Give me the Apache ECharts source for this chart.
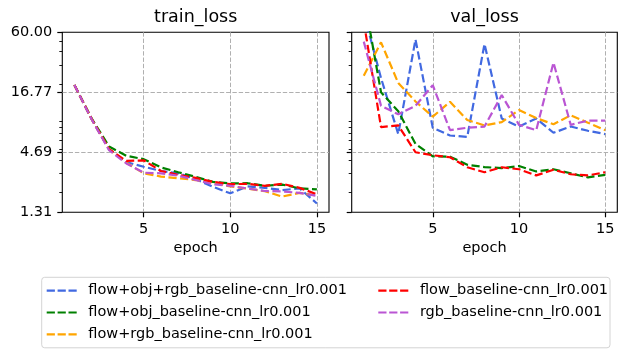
<!DOCTYPE html>
<html>
<head>
<meta charset="utf-8">
<script src="https://cdn.jsdelivr.net/npm/echarts@6/dist/echarts.min.js"></script>
<style>
html,body{margin:0;padding:0;background:#fff;}
#chart{width:619px;height:349px;}
</style>
</head>
<body>
<div id="chart"></div>
<script>
const epochs = [1,2,3,4,5,6,7,8,9,10,11,12,13,14,15];
const seriesNames = [
  'flow+obj+rgb_baseline-cnn_lr0.001',
  'flow+obj_baseline-cnn_lr0.001',
  'flow+rgb_baseline-cnn_lr0.001',
  'flow_baseline-cnn_lr0.001',
  'rgb_baseline-cnn_lr0.001'
];
const seriesColors = ['#4169e1', '#008000', '#ffa500', '#ff0000', '#ba55d3'];

// train_loss
const trainFlowObjRgb = [19.6, 9.4, 5.0, 3.8, 3.45, 3.15, 3.0, 2.65, 2.25, 1.96, 2.27, 2.2, 2.1, 2.18, 1.58];
const trainFlowObj    = [19.6, 9.6, 5.3, 4.35, 4.05, 3.4, 3.07, 2.78, 2.5, 2.42, 2.43, 2.3, 2.36, 2.18, 2.13];
const trainFlowRgb    = [19.6, 9.4, 5.0, 3.75, 3.0, 2.8, 2.7, 2.6, 2.45, 2.27, 2.17, 2.05, 1.83, 1.98, 1.87];
const trainFlow       = [19.6, 9.5, 5.0, 3.9, 3.95, 3.15, 2.9, 2.72, 2.5, 2.38, 2.4, 2.3, 2.4, 2.2, 1.92];
const trainRgb        = [19.6, 9.4, 4.9, 3.7, 3.04, 3.0, 2.85, 2.6, 2.38, 2.3, 2.17, 2.06, 2.04, 1.98, 1.86];

// val_loss
const valFlowObjRgb = [90, 22.7, 6.9, 51.5, 7.9, 6.7, 6.5, 46.8, 9.6, 8.1, 9.6, 7.1, 8.1, 7.4, 6.9];
const valFlowObj    = [130, 16.8, 11.2, 5.6, 4.3, 4.27, 3.6, 3.42, 3.35, 3.5, 3.12, 3.27, 3.0, 2.75, 2.9];
const valFlowRgb    = [23.8, 48.5, 20.4, 13.8, 10.0, 13.7, 9.3, 8.3, 8.9, 11.5, 9.7, 8.5, 10.3, 8.8, 7.5];
const valFlow       = [75, 8.0, 8.3, 4.69, 4.4, 4.22, 3.41, 3.07, 3.41, 3.27, 2.87, 3.23, 2.94, 2.87, 3.07];
const valRgb        = [49.2, 12.6, 10.5, 12.6, 19.5, 7.5, 7.9, 8.1, 15.8, 8.4, 7.5, 31.5, 8.4, 9.2, 9.2];

const xTicks = [5, 10, 15];
const yLabelTicks = [1.31, 4.69, 16.77, 60];
const yInnerTicks = [4.69, 16.77];
const yEdgeTicks = [1.31, 60];
const yMinorTicks = [2, 3, 4, 5, 6, 7, 8, 9, 20, 30, 40, 50];
const yMin = 1.31, yMax = 60;
const titles = ['train_loss', 'val_loss'];
const xName = 'epoch';

const FONT = 'DejaVu Sans';
const trainSets = [trainFlowObjRgb, trainFlowObj, trainFlowRgb, trainFlow, trainRgb];
const valSets = [valFlowObjRgb, valFlowObj, valFlowRgb, valFlow, valRgb];

const grids = [
  {left: 62.3, top: 32.3, width: 266.7, height: 180},
  {left: 351.7, top: 32.3, width: 265.6, height: 180}
];

function xAxisFor(gi) {
  return {
    type: 'value', gridIndex: gi, min: 0.3, max: 15.7,
    name: xName, nameLocation: 'middle', nameGap: 28,
    nameTextStyle: {fontFamily: FONT, fontSize: 14.5, color: '#000'},
    axisLine: {show: false},
    axisTick: {show: true, inside: false, length: 5, lineStyle: {color: '#000', width: 1.2}, customValues: xTicks},
    axisLabel: {show: true, margin: 9, fontFamily: FONT, fontSize: 14.5, color: '#000', customValues: xTicks},
    splitLine: {show: true, lineStyle: {color: '#b0b0b0', width: 1, type: [4.4, 1.9]}}
  };
}
function yAxesFor(gi, showLabels) {
  return [
    {
      type: 'log', gridIndex: gi, min: yMin, max: yMax, position: 'left',
      axisLine: {show: false},
      axisTick: {show: true, inside: false, length: 5, lineStyle: {color: '#000', width: 1.2}, customValues: yInnerTicks},
      axisLabel: {show: showLabels, margin: 10, fontFamily: FONT, fontSize: 14.5, color: '#000',
                  customValues: yLabelTicks, formatter: v => Number(v).toFixed(2)},
      splitLine: {show: true, lineStyle: {color: '#b0b0b0', width: 1, type: [4.4, 1.9]}}
    },
    {
      type: 'log', gridIndex: gi, min: yMin, max: yMax, position: 'left',
      axisLine: {show: false},
      axisTick: {show: true, inside: false, length: 5, lineStyle: {color: '#000', width: 1.2}, customValues: yEdgeTicks},
      axisLabel: {show: false}, splitLine: {show: false}
    },
    {
      type: 'log', gridIndex: gi, min: yMin, max: yMax, position: 'left',
      axisLine: {show: false},
      axisTick: {show: true, inside: false, length: 3, lineStyle: {color: '#000', width: 0.9}, customValues: yMinorTicks},
      axisLabel: {show: false}, splitLine: {show: false}
    }
  ];
}

const series = [];
[trainSets, valSets].forEach((sets, gi) => {
  sets.forEach((vals, si) => {
    series.push({
      name: seriesNames[si], type: 'line',
      xAxisIndex: gi, yAxisIndex: gi * 3,
      data: epochs.map((e, i) => [e, vals[i]]),
      symbol: 'none', showSymbol: false, clip: true,
      color: seriesColors[si],
      lineStyle: {color: seriesColors[si], width: 2.2, type: [8.2, 3.5]},
      emphasis: {disabled: true}
    });
  });
});

const dashIcon = 'path://M0,0h8.2v2.2h-8.2z M10.9,0h8.2v2.2h-8.2z M21.8,0h8.2v2.2h-8.2z M36.6,0L36.6,2.2';
function legendFor(names, left) {
  return {
    data: names, orient: 'vertical', left: left, top: 282.7, padding: 0,
    itemGap: 5.8, itemWidth: 36.6, itemHeight: 2.2, icon: dashIcon,
    symbolKeepAspect: false, selectedMode: false,
    itemStyle: {borderWidth: 0},
    textStyle: {fontFamily: FONT, fontSize: 14.5, color: '#000', lineHeight: 16}
  };
}

const chart = echarts.init(document.getElementById('chart'), null, {renderer: 'canvas'});
chart.setOption({
  animation: false,
  backgroundColor: '#fff',
  grid: grids.map(g => Object.assign({show: true, borderColor: '#000', borderWidth: 1.1, backgroundColor: 'transparent', containLabel: false}, g)),
  xAxis: [xAxisFor(0), xAxisFor(1)],
  yAxis: yAxesFor(0, true).concat(yAxesFor(1, false)),
  legend: [
    legendFor(seriesNames.slice(0, 3), 46.7),
    legendFor(seriesNames.slice(3), 378.3)
  ],
  graphic: [
    {type: 'rect', z: 0, shape: {x: 41.7, y: 277.3, width: 568.3, height: 70.5, r: 3},
     style: {fill: '#fff', stroke: '#d4d4d4', lineWidth: 1}},
    {type: 'text', x: 195.7, y: 17.2, style: {text: titles[0], align: 'center', verticalAlign: 'middle', fontFamily: FONT, fontSize: 17.5, fill: '#000'}},
    {type: 'text', x: 484.5, y: 17.2, style: {text: titles[1], align: 'center', verticalAlign: 'middle', fontFamily: FONT, fontSize: 17.5, fill: '#000'}}
  ],
  series: series
});
</script>
</body>
</html>
